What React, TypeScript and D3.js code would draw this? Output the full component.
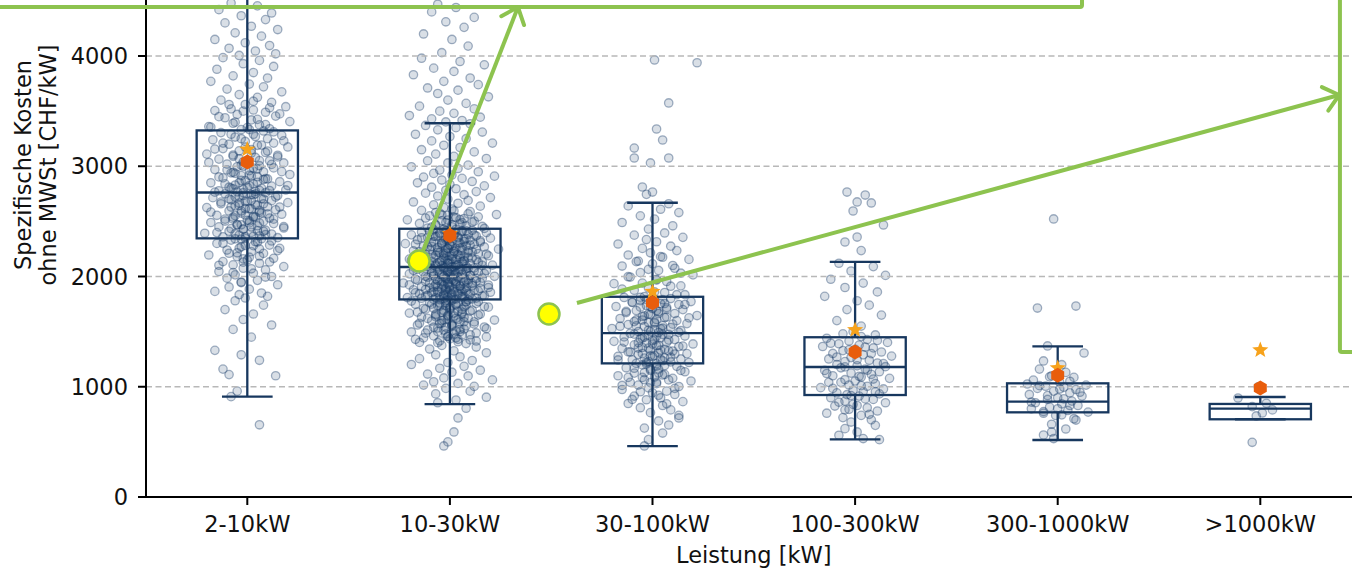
import React from "react";
import * as d3 from "d3";

// ---------- data ----------
const categories = ["2-10kW", "10-30kW", "30-100kW", "100-300kW", "300-1000kW", ">1000kW"];
const q1 = [2346, 1792, 1212, 925, 768, 705];
const median = [2762, 2086, 1486, 1179, 865, 801];
const q3 = [3325, 2433, 1816, 1449, 1031, 844];
const whiskerLow = [910, 842, 462, 523, 517, 705];
const whiskerHigh = [5600, 3390, 2669, 2132, 1367, 907];
const meanValues = [3039, 2372, 1762, 1315, 1105, 989];
const starValues = [3152, 2388, 1862, 1515, 1170, 1333];
const yTicks = [0, 1000, 2000, 3000, 4000];

// strip-plot points: [value CHF/kW, jitter in 1/100 of category step]
const pts2to10 = [
  [4480,-8],[4455,5],[4420,-14],[4390,12],[4365,-3],[4330,9],[4300,-11],[4270,2],[4240,15],[4210,-6],[4180,7],[4150,-16],[4120,-1],[4095,11],[4070,-9],[4045,4],[4020,14],[4005,-4],
  [3985,-12],[3960,6],[3930,-2],[3905,13],[3880,-15],[3850,3],[3820,-7],[3800,10],[3770,-18],[3745,1],[3720,8],[3700,-10],[3675,17],[3650,-4],[3625,5],[3600,-13],[3580,12],[3560,-1],[3540,19],[3520,-8],[3510,3],[3505,-16],
  [3490,9],[3470,-5],[3455,14],[3440,-11],[3420,2],[3405,21],[3390,-7],[3375,6],[3360,-19],[3350,0],[3340,11],[3332,-3],
  [3320,8],[3305,-13],[3290,3],[3280,17],[3265,-6],[3250,10],[3240,-17],[3225,-1],[3210,13],[3200,-9],[3190,5],[3175,20],[3160,-12],[3150,2],[3140,-4],[3125,9],[3110,-20],[3100,15],[3090,-7],[3080,4],[3065,-14],[3050,11],[3040,-2],[3030,18],[3020,-10],[3005,6],[2995,-5],[2985,13],[2970,-16],[2960,1],[2950,8],[2940,-8],[2925,21],[2915,-3],[2905,5],[2895,-12],[2885,10],[2870,-1],[2860,16],[2850,-18],[2840,3],[2830,-6],[2820,12],[2810,-9],[2800,7],[2790,-2],[2785,19],[2778,-14],[2772,4],[2768,-5],
  [2760,9],[2750,-11],[2742,2],[2735,15],[2725,-4],[2715,-17],[2705,7],[2695,-8],[2688,12],[2680,-1],[2670,20],[2660,-13],[2650,4],[2640,-6],[2632,10],[2625,-20],[2615,1],[2605,14],[2595,-9],[2585,6],[2575,-3],[2565,17],[2555,-15],[2545,3],[2538,-7],[2530,11],[2520,-11],[2510,0],[2500,8],[2490,-18],[2480,13],[2470,-5],[2460,5],[2450,-14],[2440,18],[2430,-2],[2420,9],[2410,-9],[2400,2],[2392,-21],[2385,12],[2375,-4],[2368,6],[2360,-12],[2352,15],[2345,-1],[2342,7],
  [2330,-8],[2315,4],[2300,-15],[2285,11],[2270,-3],[2255,16],[2240,-10],[2225,2],[2210,8],[2195,-19],[2180,-5],[2165,13],[2150,0],[2135,-12],[2120,6],[2105,-7],[2090,18],[2075,-2],[2060,9],[2045,-14],[2030,3],[2015,-6],[2000,12],[1985,-10],[1965,5],[1945,-3],[1925,15],[1905,-9],[1885,1],[1865,-16],[1850,7],[1835,-4],[1820,10],[1805,-1],
  [1780,-6],[1740,8],[1700,-11],[1660,3],[1610,-2],[1560,12],[1520,-7],[1450,2],
  [1330,-16],[1290,-3],[1240,6],[1160,-12],[1110,-9],[1100,14],[960,-5],[910,-8],
  [655,6],
  [3590,3],[3560,-9],[3530,11],[3500,-2],[3475,16],[3450,-14],[3425,5],[3400,-6],[3378,9],[3355,-18],[3333,1],[3312,13],[3290,-8],[3270,4],[3250,-3],[3230,18],[3210,-12],[3192,7],[3174,-1],[3156,-16],[3138,10],[3120,2],[3102,-7],[3085,15],[3068,-4],[3051,6],[3034,-19],[3017,12],[3000,-2],[2983,3],[2967,-10],[2951,17],[2935,-6],[2919,1],[2903,-14],[2887,9],[2871,-3],[2855,5],[2840,-11],[2825,20],[2810,0],[2795,-7],[2780,11],[2765,-16],[2750,4],[2735,-2],[2720,14],[2705,-9],[2690,2],[2675,-13],[2660,8],[2645,-4],[2630,16],[2615,-1],[2600,6],[2584,-18],[2568,10],[2552,-6],[2536,3],[2520,13],[2503,-11],[2486,1],[2469,-3],[2452,18],[2434,-8],[2416,5],[2398,-15],[2380,9],[2361,-1],[2342,-6],[2322,12],[2301,-12],[2280,3],[2258,-4],[2235,15],[2211,-9],[2186,6],[2160,-2],[2132,11],[2102,-14],[2070,2],[2035,-7],[1995,9],[1950,-3],
  [3010,-3],[2975,5],[2945,-7],[2912,2],[2880,8],[2852,-4],[2826,1],[2802,-8],[2781,6],[2760,-2],[2741,3],[2722,-6],[2703,8],[2684,0],[2666,-4],[2648,5],[2630,-8],[2612,2],[2594,-3],[2576,7],[2558,-1],[2540,4],[2522,-7],[2504,1],[2486,6],[2468,-5],[2449,2],[2430,-2],[2410,8],[2388,-6],[2365,3],[2340,-3],[2312,5],[2282,-1],[2250,6],[2215,-5],[2175,1],[2130,-2]
];

const pts10to30 = [
  [4470,-6],[4440,3],[4400,-9],[4350,12],[4310,-2],[4260,7],[4200,-13],[4150,1],[4090,9],[4030,-4],
  [3980,-14],[3950,5],[3920,17],[3890,-8],[3860,2],[3830,-18],[3800,10],[3770,-3],[3740,14],[3710,-11],[3690,4],[3660,-6],[3630,19],[3600,-1],[3570,8],[3545,-15],[3520,12],[3500,-5],[3480,2],[3460,-20],[3445,15],[3430,-9],[3415,6],[3402,-2],
  [3385,10],[3370,-12],[3350,3],[3330,-6],[3310,16],[3290,-17],[3270,0],[3250,8],[3230,-9],[3210,21],[3190,-3],[3170,5],[3150,-14],[3130,12],[3110,-7],[3090,2],[3070,18],[3050,-11],[3030,-1],[3010,9],[2995,-19],[2980,4],[2965,-5],[2950,14],[2935,-8],[2920,1],[2910,22],[2902,-13],
  [2890,6],[2875,-4],[2862,11],[2850,-16],[2836,0],[2822,17],[2810,-9],[2796,3],[2782,-2],[2770,13],[2756,-12],[2742,7],[2730,-6],[2716,20],[2702,-1],[2690,9],[2676,-18],[2664,4],[2650,-8],[2638,15],[2625,-3],[2612,1],[2600,-14],[2588,10],[2575,-5],[2562,23],[2550,-10],[2538,2],[2526,7],[2514,-21],[2502,12],[2490,-2],[2478,5],[2466,-7],[2454,16],[2440,-11],
  [2428,3],[2423,-8],[2418,11],[2413,-2],[2408,6],[2403,-14],[2398,18],[2393,0],[2388,-5],[2383,9],[2378,-19],[2373,2],[2368,13],[2363,-7],[2358,4],[2353,-11],[2348,20],[2343,-1],[2338,7],[2333,-16],[2328,10],[2323,-3],[2318,1],[2313,15],[2308,-9],[2303,5],[2298,-22],[2293,12],[2288,-4],[2283,0],[2278,8],[2273,-13],[2268,17],[2263,-6],[2258,3],[2253,-1],[2248,24],[2243,-10],[2238,6],[2233,-18],[2228,2],[2223,11],[2218,-5],[2213,-2],[2208,14],[2203,-12],[2198,4],[2193,-7],[2188,19],[2183,1],[2178,-15],[2173,9],[2168,-3],[2163,5],[2158,-20],[2153,13],[2148,-1],[2143,7],[2138,-9],[2133,16],[2128,0],[2123,-6],[2118,10],[2113,-17],[2108,3],[2103,21],[2098,-4],[2093,8],[2090,-11],[2087,2],
  [2082,-3],[2078,12],[2073,-9],[2069,5],[2064,-16],[2060,1],[2055,18],[2051,-6],[2047,8],[2042,-1],[2038,-13],[2033,14],[2029,3],[2024,-20],[2020,6],[2016,-4],[2011,10],[2007,-8],[2002,22],[1998,0],[1993,-11],[1989,4],[1985,16],[1980,-2],[1976,-17],[1971,9],[1967,-5],[1963,2],[1958,13],[1954,-12],[1949,7],[1945,-1],[1941,-23],[1936,11],[1932,3],[1927,-7],[1923,19],[1919,-3],[1914,5],[1910,-14],[1905,0],[1901,8],[1897,-10],[1892,15],[1888,-4],[1883,2],[1879,-18],[1875,12],[1870,-6],[1866,6],[1861,-1],[1857,20],[1853,-9],[1848,4],[1844,-15],[1839,10],[1835,-2],[1831,1],[1826,17],[1822,-12],[1817,7],[1813,-5],[1809,-21],[1804,13],[1800,-3],[1796,3],[1792,-8],[1789,9],
  [1780,-2],[1772,14],[1764,-10],[1756,4],[1748,-17],[1740,8],[1731,-5],[1722,19],[1713,0],[1704,-12],[1695,11],[1686,-3],[1677,6],[1668,-20],[1659,15],[1650,-7],[1641,2],[1632,-14],[1623,9],[1614,-1],[1605,22],[1596,-9],[1587,5],[1578,-4],[1569,12],[1560,-16],[1551,1],[1542,17],[1533,-6],[1524,7],[1515,-11],[1506,3],[1497,-19],[1488,13],[1479,-2],[1470,6],[1461,-8],[1452,18],[1443,-13],[1434,0],[1425,10],[1416,-5],[1408,4],[1402,-15],
  [1392,8],[1375,-4],[1360,13],[1342,-10],[1325,2],[1308,18],[1290,-7],[1272,5],[1255,-15],[1238,11],[1220,-1],[1202,-19],[1185,7],[1168,-5],[1150,15],[1132,1],[1115,-11],[1098,9],[1080,-3],[1062,21],[1045,-8],[1030,4],[1015,-13],[1003,12],
  [985,-2],[960,10],[935,-7],[905,18],[880,3],[855,-6],
  [805,8],[717,4],[590,2],[500,-1],[463,-3],
  [2595,2],[2580,-7],[2568,9],[2555,-1],[2541,14],[2530,-12],[2517,5],[2505,-4],[2493,11],[2481,-15],[2470,1],[2459,8],[2447,-9],[2436,17],[2425,-3],[2415,6],[2405,-10],[2396,3],[2386,-1],[2377,12],[2368,-6],[2360,0],[2351,-14],[2342,8],[2334,-2],[2325,15],[2317,-8],[2309,4],[2301,-4],[2293,-17],[2285,10],[2277,1],[2270,-11],[2262,6],[2254,-1],[2247,13],[2239,-6],[2232,2],[2224,-15],[2217,9],[2210,-3],[2203,18],[2196,-9],[2189,0],[2182,5],[2175,-13],[2168,11],[2161,-2],[2154,3],[2147,-19],[2140,7],[2134,-5],[2127,14],[2120,-1],[2114,-10],[2107,4],[2101,16],[2094,-7],[2088,1],[2081,-14],[2075,9],[2069,-3],[2062,6],[2056,-18],[2050,12],[2044,-1],[2038,2],[2032,-9],[2026,17],[2020,-5],[2014,0],[2008,10],[2002,-12],[1996,4],[1990,-2],[1984,13],[1978,-7],[1972,1],[1966,-16],[1960,8],[1954,-4],[1948,15],[1942,-10],[1936,3],[1930,-1],[1924,-20],[1918,11],[1912,5],[1906,-6],[1900,19],[1894,-2],[1888,7],[1882,-12],[1876,0],[1870,14],[1864,-8],[1858,2],[1852,-17],[1846,9],[1840,-3],[1834,4],[1828,-11],[1822,16],[1816,-1],[1810,6],[1803,-14],[1797,11],[1790,-5],[1784,1],[1777,-19],[1770,8],[1763,-2],[1756,13],[1749,-9],[1742,3],[1735,-6],[1727,17],[1719,0],[1711,-13],[1703,6],[1695,-3],[1686,10],[1677,-16],[1668,2],[1659,-7],[1650,14],[1640,-1],[1630,7],[1620,-11],[1610,4],[1600,-4],[1588,12],[1576,-15],[1564,1],[1552,8],[1540,-8],[1527,18],[1514,-3],[1500,5],[1486,-12],[1472,10],[1458,-1],[1444,3],[1430,-17],[1415,13],[1400,-6],
  [2560,-4],[2535,3],[2512,-1],[2490,6],[2470,-7],[2450,1],[2432,-3],[2414,8],[2397,-5],[2380,2],[2364,-8],[2348,4],[2332,-1],[2317,7],[2302,-4],[2288,0],[2274,-9],[2260,5],[2246,-2],[2233,9],[2220,-6],[2207,2],[2194,-3],[2181,7],[2168,-8],[2156,1],[2144,-4],[2132,6],[2120,-1],[2108,-7],[2096,3],[2084,-2],[2072,8],[2060,-5],[2048,0],[2036,4],[2024,-8],[2012,2],[2000,-3],[1988,7],[1976,-1],[1964,-6],[1952,3],[1940,9],[1928,-4],[1916,0],[1904,-8],[1892,5],[1880,-2],[1868,8],[1856,-6],[1844,1],[1832,-3],[1820,6],[1808,-7],[1796,2],[1784,-1],[1772,8],[1760,-5],[1748,3],[1736,-2],[1724,7],[1712,-8],[1700,0],[1687,4],[1674,-4],[1661,6],[1648,-1],[1634,-7],[1620,3],[1605,-3],[1590,7],[1574,-5],[1557,1],[1539,-2],[1520,5],[1500,-6],[1478,2],[1455,-1],[1430,4]
];

const pts30to100 = [
  [3964,1],[3939,22],[3574,8],[3338,2],[3238,5],[3165,-9],[3075,-9],[3075,8],[3030,-1],[2812,-5],[2766,0],[2745,-3],
  [2660,8],[2640,-12],[2610,4],[2580,13],[2550,-6],[2520,1],[2490,-15],[2460,10],[2430,-2],
  [2395,6],[2375,-9],[2355,15],[2335,-3],[2315,2],[2295,-17],[2275,9],[2255,-5],[2235,12],[2215,-1],[2195,-12],[2175,5],[2155,18],[2135,-8],[2115,0],[2095,-15],[2075,11],[2055,3],[2035,-6],[2015,20],[1995,-11],[1975,2],[1955,7],[1935,-19],[1915,14],[1895,-2],[1875,-9],[1855,6],[1835,16],[1818,-4],
  [1810,-14],[1800,9],[1791,1],[1782,-6],[1773,19],[1764,-10],[1755,4],[1746,13],[1737,-3],[1728,-18],[1719,7],[1710,0],[1700,15],[1691,-8],[1682,3],[1673,-13],[1664,11],[1655,-1],[1646,22],[1637,-5],[1628,6],[1619,-16],[1610,2],[1600,12],[1591,-9],[1582,-2],[1573,17],[1564,-12],[1555,5],[1546,-4],[1537,9],[1528,-20],[1519,1],[1510,14],[1501,-7],[1492,3],
  [1484,-11],[1476,8],[1468,-2],[1460,16],[1452,-14],[1444,4],[1436,-6],[1428,11],[1420,0],[1412,-19],[1404,7],[1396,-3],[1388,20],[1380,-9],[1372,2],[1364,13],[1356,-5],[1348,-15],[1340,6],[1332,-1],[1324,10],[1316,-12],[1308,3],[1300,17],[1292,-7],[1284,1],[1276,-17],[1268,9],[1260,-4],[1252,14],[1244,-10],[1236,5],[1228,-2],[1220,18],[1212,-8],[1208,2],
  [1198,-5],[1185,12],[1172,-13],[1160,3],[1148,-1],[1136,16],[1124,-9],[1112,6],[1100,-17],[1088,1],[1076,10],[1064,-4],[1052,19],[1040,-11],[1028,2],[1015,-7],[1002,13],[990,-2],[975,-15],[960,7],[945,0],[930,11],[915,-9],[900,4],[882,-3],[865,15],[848,-12],[830,5],[810,-6],[790,9],[765,-1],[740,13],[717,13],[690,3],[653,8],[625,-4],[580,5],[520,-2],[463,-4],
  [2180,4],[2140,-7],[2100,10],[2065,-2],[2030,14],[1998,-12],[1968,2],[1940,-5],[1912,9],[1886,-15],[1860,1],[1835,12],[1812,-6],[1790,5],[1768,-10],[1746,16],[1725,-1],[1704,7],[1684,-13],[1664,3],[1644,-4],[1625,18],[1606,-8],[1587,1],[1568,10],[1549,-16],[1531,5],[1513,-2],[1495,13],[1477,-9],[1459,2],[1441,-5],[1423,8],[1405,-14],[1387,0],[1369,15],[1351,-7],[1333,4],[1315,-11],[1297,11],[1279,-1],[1261,6],[1243,-17],[1225,9],[1206,-3],[1187,2],[1168,-9],[1148,14],[1128,-4],[1107,5],[1085,-12],[1062,8],[1038,-1],[1012,-15],[985,11],[955,-6],[922,3],[885,-10],[845,7],
  [1790,-3],[1755,6],[1722,-6],[1690,2],[1660,-2],[1632,7],[1605,-5],[1578,1],[1552,-8],[1526,4],[1500,-1],[1475,5],[1450,-4],[1425,1],[1400,-7],[1375,3],[1350,-2],[1325,8],[1300,-5],[1275,0],[1250,4],[1222,-3],[1192,6],[1160,-1],[1125,3],[1085,-5],[1040,2]
];

const pts100to300 = [
  [2766,-4],[2739,5],[2676,1],[2667,8],[2594,-1],[2467,14],[2358,1],[2313,-5],[2235,3],
  [2120,-8],[2090,9],[2050,-2],[2010,15],[1975,-12],[1940,4],[1900,-5],[1860,11],[1820,-15],[1780,1],[1740,7],[1700,-4],[1650,13],[1600,-9],[1550,3],[1500,-1],[1470,10],
  [1440,-14],[1428,6],[1415,-3],[1402,16],[1390,-8],[1378,2],[1365,-16],[1352,9],[1340,0],[1328,-6],[1315,13],[1302,-11],[1290,4],[1278,18],[1265,-2],[1252,-13],[1240,7],[1228,-5],[1215,11],[1202,-9],[1190,1],[1182,15],
  [1172,-7],[1160,5],[1148,-15],[1136,12],[1124,-2],[1112,8],[1100,-11],[1088,3],[1076,17],[1064,-5],[1052,0],[1040,-13],[1028,10],[1016,-3],[1004,6],[992,-17],[980,14],[968,-1],[956,4],[944,-9],[935,12],[928,-4],
  [915,2],[900,-12],[885,9],[870,-5],[855,15],[840,-1],[825,-10],[810,6],[795,-3],[780,11],[760,-14],[740,3],[720,-6],[700,8],[680,-2],[650,10],[620,-5],[590,1],[560,-8],[530,4],[520,12],
  [1480,-6],[1455,3],[1420,11],[1395,-12],[1360,5],[1335,-3],[1300,8],[1270,-9],[1245,1],[1210,14],[1180,-5],[1150,6],[1120,-14],[1095,2],[1070,9],[1040,-7],[1010,3],[985,-11],[955,10],[920,-2],[890,5],[860,-8],[830,1],[790,-5],[750,7]
];

const pts300to1000 = [
  [2522,-2],[1732,9],[1714,-10],[1370,-5],[1306,13],[1234,-7],[1200,2],[1160,-9],[1130,4],[1100,-3],[1085,8],[1060,-12],[1040,1],[1025,-15],[1015,14],[1005,-6],[995,3],[985,-10],[975,9],[960,-2],[945,6],[930,-14],[915,12],[900,0],[885,-5],[870,7],[855,-11],[845,2],[830,10],[815,-4],[800,-13],[785,5],[770,15],[760,-7],[740,-1],[710,8],[698,9],[660,-3],[617,4],[590,-3],[562,-7],[530,-2],
  [1090,-4],[1050,6],[1010,-9],[980,1],[950,11],[920,-5],[890,3],[860,-13],[830,6],[800,0],[775,-7],[745,2]
];

const ptsOver1000 = [
  [1000,-1],[898,-11],[850,3],[820,-4],[790,6],[762,1],[735,-2],[496,-4]
];

const pointsByCategory = [pts2to10, pts10to30, pts30to100, pts100to300, pts300to1000, ptsOver1000];

// annotation anchors in data coordinates [category position, CHF/kW]
const annotCircles = [[0.848, 2141], [1.489, 1660]];
const annotArrows = [
  [[0.848, 2141], [1.336, 4444]],
  [[1.627, 1760], [5.389, 3646]],
];
const topBoxCorner = [4.12, 4444];
const rightBoxCorner = [5.393, 1315];

// ---------- styles ----------
const NAVY = "#17375e";
const POINT = "#1b3f6b";
const GREEN = "#8dc34f";
const FONT = "DejaVu Sans, sans-serif";

function hexPath(cx: number, cy: number, r: number) {
  const p = d3.path();
  for (let k = 0; k < 6; k++) {
    const a = (Math.PI / 180) * (90 + 60 * k);
    const px = cx + r * Math.cos(a);
    const py = cy - r * Math.sin(a);
    if (k === 0) p.moveTo(px, py);
    else p.lineTo(px, py);
  }
  p.closePath();
  return p.toString();
}

function starPath(cx: number, cy: number, ro: number, ri: number) {
  const p = d3.path();
  for (let k = 0; k < 10; k++) {
    const r = k % 2 === 0 ? ro : ri;
    const a = (Math.PI / 180) * (90 + 36 * k);
    const px = cx + r * Math.cos(a);
    const py = cy - r * Math.sin(a);
    if (k === 0) p.moveTo(px, py);
    else p.lineTo(px, py);
  }
  p.closePath();
  return p.toString();
}

export default function App() {
  const W = 1352;
  const H = 569;
  const x = d3.scaleLinear().domain([-0.5, 5.5]).range([146, 1361.6]);
  const y = d3.scaleLinear().domain([0, 4000]).range([497, 56]);
  const x0 = x(-0.5);
  const y0 = y(0);

  const arrowHead = (sx: number, sy: number, ex: number, ey: number) => {
    const ang = Math.atan2(sy - ey, sx - ex);
    const L = 19;
    const da = (40 * Math.PI) / 180;
    const a1x = ex + L * Math.cos(ang + da);
    const a1y = ey + L * Math.sin(ang + da);
    const a2x = ex + L * Math.cos(ang - da);
    const a2y = ey + L * Math.sin(ang - da);
    return `M${a1x},${a1y}L${ex},${ey}L${a2x},${a2y}`;
  };

  return (
    <svg
      width={W}
      height={H}
      viewBox={`0 0 ${W} ${H}`}
      style={{ position: "absolute", left: 0, top: 0, background: "#fff" }}
    >
      <rect x={0} y={0} width={W} height={H} fill="#fff" />

      {/* scatter points */}
      <g>
        {pointsByCategory.map((pts, i) =>
          pts.map(([v, j], k) => (
            <circle
              key={`${i}-${k}`}
              cx={x(i + j / 100)}
              cy={y(v)}
              r={4.2}
              fill={POINT}
              fillOpacity={0.17}
              stroke={POINT}
              strokeOpacity={0.4}
              strokeWidth={1.3}
            />
          ))
        )}
      </g>

      {/* grid */}
      <g>
        {yTicks.filter((t) => t > 0).map((t) => (
          <line
            key={t}
            x1={x0}
            x2={W}
            y1={y(t)}
            y2={y(t)}
            stroke="#b8b8b8"
            strokeWidth={1.5}
            strokeDasharray="6,3.5"
          />
        ))}
      </g>

      {/* boxes */}
      <g fill="none" stroke={NAVY} strokeWidth={2.3}>
        {categories.map((c, i) => {
          const l = x(i - 0.25);
          const r = x(i + 0.25);
          const cl = x(i - 0.125);
          const cr = x(i + 0.125);
          const cx = x(i);
          return (
            <g key={c}>
              <rect x={l} y={y(q3[i])} width={r - l} height={y(q1[i]) - y(q3[i])} />
              <line x1={l} x2={r} y1={y(median[i])} y2={y(median[i])} />
              <line x1={cx} x2={cx} y1={y(q3[i])} y2={y(whiskerHigh[i])} />
              <line x1={cx} x2={cx} y1={y(q1[i])} y2={y(whiskerLow[i])} />
              <line x1={cl} x2={cr} y1={y(whiskerHigh[i])} y2={y(whiskerHigh[i])} />
              <line x1={cl} x2={cr} y1={y(whiskerLow[i])} y2={y(whiskerLow[i])} />
            </g>
          );
        })}
      </g>

      {/* star and mean markers */}
      <g>
        {categories.map((c, i) => (
          <path key={`s${c}`} d={starPath(x(i), y(starValues[i]), 8.5, 3.6)} fill="#f7a21b" />
        ))}
        {categories.map((c, i) => (
          <path key={`m${c}`} d={hexPath(x(i), y(meanValues[i]), 7.5)} fill="#e85d0c" />
        ))}
      </g>

      {/* axes */}
      <g>
        <line x1={x0} x2={x0} y1={0} y2={y0 + 1} stroke="#000" strokeWidth={2} />
        <line x1={x0 - 1} x2={W} y1={y0} y2={y0} stroke="#000" strokeWidth={2} />
        {yTicks.map((t) => (
          <g key={`yt${t}`}>
            <line x1={x0 - 8} x2={x0} y1={y(t)} y2={y(t)} stroke="#000" strokeWidth={2} />
            <text
              x={x0 - 18}
              y={y(t) + 8}
              textAnchor="end"
              fontFamily={FONT}
              fontSize={22.5}
              fill="#111"
            >
              {t}
            </text>
          </g>
        ))}
        {categories.map((c, i) => (
          <g key={`xt${c}`}>
            <line x1={x(i)} x2={x(i)} y1={y0} y2={y0 + 8} stroke="#000" strokeWidth={2} />
            <text
              x={x(i)}
              y={532}
              textAnchor="middle"
              fontFamily={FONT}
              fontSize={22.5}
              fill="#111"
            >
              {c}
            </text>
          </g>
        ))}
        <text
          x={(x0 + x(5.5)) / 2}
          y={563}
          textAnchor="middle"
          fontFamily={FONT}
          fontSize={22.5}
          fill="#111"
        >
          Leistung [kW]
        </text>
        <text
          transform="translate(31,165) rotate(-90)"
          textAnchor="middle"
          fontFamily={FONT}
          fontSize={22.5}
          fill="#111"
        >
          Spezifische Kosten
        </text>
        <text
          transform="translate(56,165) rotate(-90)"
          textAnchor="middle"
          fontFamily={FONT}
          fontSize={22.5}
          fill="#111"
        >
          ohne MWSt [CHF/kW]
        </text>
      </g>

      {/* annotations */}
      <g fill="none" stroke={GREEN} strokeWidth={4} strokeLinejoin="round" strokeLinecap="round">
        <rect
          x={-20}
          y={-60}
          width={x(topBoxCorner[0]) + 20}
          height={y(topBoxCorner[1]) + 60}
          rx={2}
        />
        <rect
          x={x(rightBoxCorner[0])}
          y={-60}
          width={200}
          height={y(rightBoxCorner[1]) + 60}
          rx={2}
        />
        {annotArrows.map(([s, e], k) => {
          const sx = x(s[0]);
          const sy = y(s[1]);
          const ex = x(e[0]);
          const ey = y(e[1]);
          return (
            <g key={`a${k}`}>
              <line x1={sx} y1={sy} x2={ex} y2={ey} strokeLinecap="butt" />
              <path d={arrowHead(sx, sy, ex, ey)} />
            </g>
          );
        })}
      </g>
      <g>
        {annotCircles.map(([cx, cy], k) => (
          <circle
            key={`c${k}`}
            cx={x(cx)}
            cy={y(cy)}
            r={10.5}
            fill="#ffff00"
            stroke={GREEN}
            strokeWidth={2.5}
          />
        ))}
      </g>
    </svg>
  );
}
